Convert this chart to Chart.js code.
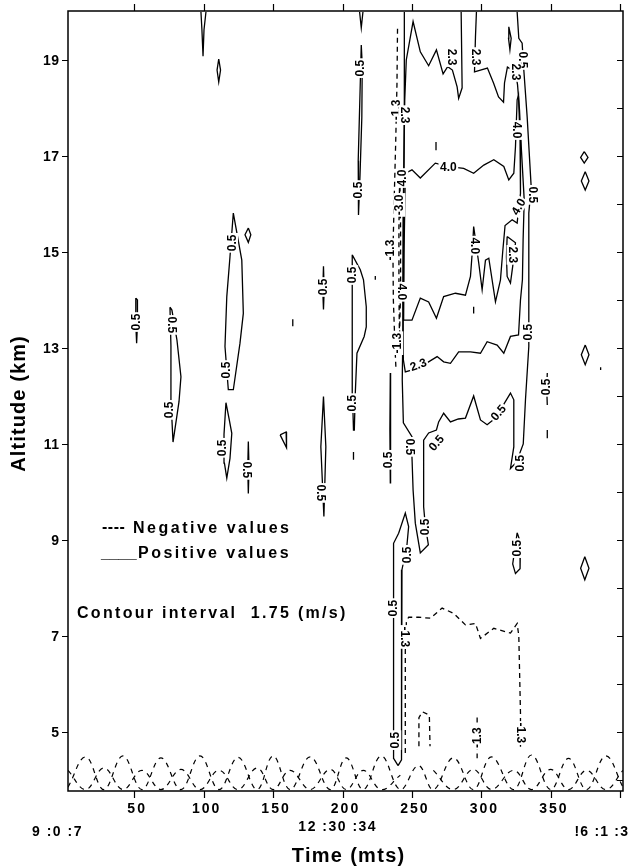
<!DOCTYPE html>
<html><head><meta charset="utf-8">
<script src="https://cdn.jsdelivr.net/npm/chart.js@4.4.1/dist/chart.umd.min.js"></script>
<style>html,body{margin:0;padding:0;background:#fff}canvas{display:block}</style>
</head><body>
<canvas id="c" width="630" height="868"></canvas>
<script>
// ---- axes ----
const X_MIN = 2.4, X_MAX = 401.9, Y_MIN = 3.77, Y_MAX = 20.02;
const xTicks = [50, 100, 150, 200, 250, 300, 350, 400];
const xTickLabels = ['50', '100', '150', '200', '250', '300', '350', ''];
const yTicks = [5, 7, 9, 11, 13, 15, 17, 19];
const yTickLabels = ['5', '7', '9', '11', '13', '15', '17', '19'];
const yMinorTicks = [4, 5, 6, 7, 8, 9, 10, 11, 12, 13, 14, 15, 16, 17, 18, 19];
const timeLabels = ['9 :0 :7', '12 :30 :34', '!6 :1 :3'];

// ---- positive (solid) contours, [time, altitude] ----
const c05Top100 = [[98.1,20.0],[98.8,19.63],[99.6,19.08],[100.3,19.63],[101.7,20.0]];
const c05Dia111 = [[110.9,19.02],[112.2,18.79],[110.9,18.54],[109.7,18.79],[110.9,19.02]];
const c05Top213 = [[212.3,20.0],[213.5,19.67],[214.7,20.0]];
const c05Col213 = [[213.5,19.31],[212.5,18.2],[211.3,16.9],[211.5,15.77],[212.6,16.6],[213.9,17.8],[214.2,18.9],[213.5,19.31]];
const c05L52 = [[51.3,14.04],[51.2,13.5],[51.8,13.1],[52.4,13.5],[52.4,14.0],[51.3,14.04]];
const c05L78 = [[75.8,13.85],[76.5,13.04],[76.5,11.92],[78.0,11.04],[82.3,11.88],[83.7,12.4],[80.8,13.17],[77.2,13.79],[75.8,13.85]];
const c05L120 = [[121.4,15.81],[127.5,14.83],[128.6,13.72],[126.2,13.1],[121.4,12.13],[117.8,12.13],[115.4,13.03],[116.7,14.07],[119.0,14.9],[121.4,15.81]];
const c05Dia132 = [[132.2,15.5],[134.0,15.36],[132.2,15.2],[129.8,15.36],[132.2,15.5]];
const c05L186a = [[186.3,14.7],[185.8,14.2],[186.3,13.8],[186.8,14.2],[186.3,14.7]];
const c05L208 = [[207.0,14.94],[212.8,14.63],[215.1,14.42],[217.1,13.86],[217.1,13.44],[215.6,13.24],[210.4,12.89],[209.2,12.06],[208.5,11.29],[207.9,11.29],[207.2,12.0],[207.0,13.0],[207.0,14.0],[207.0,14.94]];
const c05Dot208 = [[207.9,10.83],[207.9,10.67]];
const c05L117 = [[116.1,11.86],[118.5,11.5],[120.3,11.22],[119.0,10.7],[116.7,10.29],[115.0,10.6],[114.7,11.2],[116.1,11.86]];
const c05L132 = [[132.2,11.05],[131.8,10.5],[132.2,9.97],[132.7,10.5],[132.2,11.05]];
const c05Tri157 = [[155.1,11.19],[159.4,11.25],[159.7,10.92],[155.1,11.19]];
const c05L186b = [[186.3,11.99],[188.0,10.94],[186.6,9.49],[184.4,10.94],[186.3,11.99]];
const c05L234 = [[234.4,12.48],[234.1,11.3],[234.4,10.19],[234.8,11.3],[234.4,12.48]];
const c05Main = [[244.5,20.0],[244.5,18.17],[244.1,16.08],[243.8,14.0],[243.0,12.33],[243.8,11.44],[250.0,11.15],[250.0,10.73],[250.8,10.04],[252.4,9.35],[256.0,8.73],[261.8,8.9],[259.6,9.3],[258.4,9.69],[258.4,11.08],[262.0,11.23],[267.6,11.29],[269.2,11.46],[272.8,11.64],[277.7,11.46],[283.4,11.52],[288.5,11.54],[294.4,12.0],[299.3,11.5],[304.1,11.4],[310.1,11.54],[320.9,12.06],[323.3,11.92],[323.3,10.94],[320.9,10.49],[325.2,10.62],[330.1,11.0],[331.7,11.92],[334.1,13.03],[334.1,15.81],[335.8,16.36],[332.9,17.82],[330.5,18.79],[329.3,19.35],[326.9,19.45],[325.7,20.0]];
const c05Long = [[240.0,4.3],[236.8,4.45],[236.8,5.67],[236.8,7.54],[236.6,8.58],[236.8,8.93],[240.4,9.14],[245.2,9.56],[247.6,9.28],[246.4,8.9],[242.8,8.38],[242.3,7.33],[242.3,5.67],[242.8,4.42],[240.0,4.3]];
const c05Loop326 = [[325.7,9.15],[328.1,8.95],[327.8,8.4],[324.5,8.3],[322.5,8.5],[324.5,8.9],[325.7,9.15]];
const c05Seg347 = [[347.4,12.48],[347.0,12.15],[347.4,11.81]];
const c05Dash347 = [[347.4,11.29],[347.4,11.12]];
const c05Dia374a = [[374.0,17.09],[376.7,16.97],[374.0,16.85],[371.4,16.97],[374.0,17.09]];
const c05Dia374b = [[374.7,16.67],[377.4,16.48],[374.7,16.29],[371.9,16.48],[374.7,16.67]];
const c05Dia374c = [[374.7,13.06],[377.4,12.86],[374.7,12.65],[371.9,12.86],[374.7,13.06]];
const c05Dia374d = [[374.4,8.65],[377.4,8.41],[374.4,8.17],[371.4,8.41],[374.4,8.65]];
const c05Dot386 = [[385.8,12.6],[385.8,12.54]];
const c05Dot224 = [[223.6,14.5],[223.6,14.42]];
const c05Dot164 = [[164.2,13.6],[164.2,13.45]];
const c05Loop320 = [[319.7,19.69],[321.4,19.45],[320.5,19.21],[319.5,19.45],[319.7,19.69]];
const c23Main = [[285.4,20.0],[286.1,18.42],[283.6,18.2],[282.5,18.44],[279.1,18.79],[275.7,18.86],[272.4,18.71],[267.6,19.21],[262.0,18.88],[256.0,19.17],[250.8,19.8],[245.9,19.0],[244.8,18.17],[243.8,16.08],[243.4,14.0],[243.8,12.75],[245.2,12.5],[254.6,12.58],[268.1,12.82],[272.8,12.71],[277.7,12.68],[283.6,12.92],[292.1,12.92],[299.3,12.89],[304.1,13.13],[311.3,13.06],[316.1,12.89],[320.9,13.24],[326.7,13.27],[328.1,14.0],[329.5,14.42],[330.0,15.25],[330.8,16.08],[328.8,17.12],[327.4,17.96],[326.0,18.48],[324.5,18.75],[318.7,18.85],[316.6,18.52],[315.9,18.12],[312.3,18.23],[308.7,18.52],[304.3,18.83],[299.3,18.79],[295.0,18.75],[295.7,19.48],[296.4,20.0]];
const c23Small = [[318.5,15.32],[324.5,15.19],[322.5,14.7],[320.9,14.35],[318.5,14.49],[318.0,14.9],[318.5,15.32]];
const c40Main = [[245.2,16.64],[250.0,16.71],[256.0,16.54],[266.8,16.85],[276.4,16.78],[287.2,16.74],[294.4,16.64],[301.7,16.81],[308.9,16.92],[316.1,16.78],[319.7,16.5],[323.3,16.64],[324.5,17.19],[325.7,18.17],[326.7,18.27],[327.8,17.33],[328.1,16.22],[326.7,15.88],[325.7,15.6],[322.1,15.67],[317.0,15.55],[315.3,15.0],[313.7,14.42],[310.1,13.96],[305.3,14.87],[302.9,14.83],[300.5,14.21],[298.1,14.76],[294.4,15.53],[293.5,15.04],[292.1,14.49],[288.5,14.1],[281.3,14.14],[272.8,14.07],[267.6,13.62],[262.0,13.96],[256.0,14.04],[250.0,13.58],[244.0,13.58],[244.3,15.0],[245.2,16.64]];
const c40Dash267 = [[267.3,17.29],[267.3,17.12]];
const c40Dash294 = [[294.4,13.86],[294.4,13.72]];

// ---- negative (dashed) contours ----
const n13Upper = [[239.6,19.65],[239.2,18.5],[238.3,17.3],[237.2,16.1],[236.3,15.0],[236.6,14.0],[237.8,13.0],[238.5,12.55]];
const n30Upper = [[241.2,16.7],[240.6,15.5],[240.6,14.2],[241.0,13.2],[241.8,14.2],[241.8,15.5],[241.2,16.7]];
const n13Lower = [[245.2,4.56],[245.2,5.7],[245.2,6.7],[246.0,7.3],[247.6,7.39],[254.8,7.39],[263.2,7.37],[271.7,7.58],[280.0,7.47],[288.5,7.23],[295.7,7.26],[299.3,6.95],[308.9,7.16],[320.9,7.06],[325.7,7.26],[326.9,7.0],[328.1,5.4],[328.1,4.69]];
const n13Box = [[255.0,4.7],[255.0,5.3],[257.5,5.42],[262.5,5.35],[263.0,4.7]];
const n13Seg297 = [[296.9,5.3],[296.9,4.45]];
const nWaveOuter = [[2.4,3.85],[15.2,4.48],[28.2,3.8],[41.9,4.5],[55.6,3.8],[69.3,4.46],[83.7,3.8],[97.4,4.5],[111.1,3.8],[124.8,4.47],[138.5,3.8],[150.0,4.5],[162.3,3.8],[176.7,4.48],[191.1,3.8],[202.7,4.46],[214.9,3.8],[227.9,4.5],[241.6,3.8],[254.6,4.3],[265.4,3.8],[279.8,4.46],[294.2,3.8],[307.2,4.48],[323.1,3.8],[336.1,4.52],[349.8,3.8],[362.7,4.45],[375.7,3.8],[389.4,4.5],[401.9,3.85]];
const nWaveInnerL = [[2.4,4.2],[15.2,3.8],[28.2,4.25],[41.9,3.8],[55.6,4.2],[69.3,3.8],[83.7,4.22],[97.4,3.8],[111.1,4.2],[124.8,3.8],[138.5,4.25],[150.0,3.8],[162.3,4.2],[176.7,3.8],[191.1,4.22],[202.7,3.8],[214.9,4.2],[227.9,3.8],[241.6,4.1]];
const nWaveInnerR = [[265.4,4.2],[279.8,3.8],[294.2,4.22],[307.2,3.8],[323.1,4.2],[336.1,3.8],[349.8,4.22],[362.7,3.8],[375.7,4.2],[389.4,3.8],[401.9,4.2]];

// ---- contour labels [time, altitude, text, angle] ----
const contourLabels = [
 [212.8,18.83,'0.5',-90],[211.3,16.29,'0.5',-90],[51.3,13.54,'0.5',-90],[77.2,13.48,'0.5',90],
 [75.0,11.71,'0.5',-90],[120.5,15.19,'0.5',-90],[116.1,12.54,'0.5',-90],[113.3,10.92,'0.5',-90],
 [131.3,10.46,'0.5',90],[184.6,9.98,'0.5',90],[186.1,14.27,'0.5',-90],[207.0,14.52,'0.5',-90],
 [207.0,11.85,'0.5',-90],[232.9,10.67,'0.5',-90],[248.8,10.94,'0.5',90],[259.6,9.27,'0.5',-90],
 [267.6,11.02,'0.5',-50],[312.3,11.65,'0.5',-50],[328.1,10.6,'0.5',-90],[333.9,13.33,'0.5',-90],
 [346.9,12.19,'0.5',-90],[336.8,16.19,'0.5',90],[329.6,19.0,'0.5',90],[326.0,8.83,'0.5',-90],
 [236.6,7.58,'0.5',-90],[238.0,4.83,'0.5',-90],[246.6,8.69,'0.5',-90],
 [238.7,17.96,'-1.3',-90],[234.4,15.04,'-1.3',-90],[239.4,13.1,'-1.3',-90],[245.2,6.98,'-1.3',90],
 [297.1,4.88,'-1.3',-90],[328.1,4.98,'-1.3',90],
 [278.4,19.06,'2.3',90],[295.7,19.06,'2.3',90],[244.5,17.85,'2.3',90],[324.5,18.75,'2.3',90],
 [322.4,14.94,'2.3',90],[254.6,12.65,'2.3',-20],
 [276.2,16.77,'4.0',0],[325.2,17.54,'4.0',90],[326.7,15.94,'4.0',-60],[294.9,15.13,'4.0',90],
 [243.0,14.17,'4.0',90],[243.0,16.54,'4.0',-90],[240.9,15.98,'-3.0',-90]
];

const solidContours = [c05Top100,c05Dia111,c05Top213,c05Col213,c05L52,c05L78,c05L120,c05Dia132,c05L186a,c05L208,c05Dot208,c05L117,c05L132,c05Tri157,c05L186b,c05L234,c05Main,c05Long,c05Loop326,c05Seg347,c05Dash347,c05Dia374a,c05Dia374b,c05Dia374c,c05Dia374d,c05Dot386,c05Dot224,c05Dot164,c05Loop320,c23Main,c23Small,c40Main,c40Dash267,c40Dash294];
const dashedContours = [n13Upper,n30Upper,n13Lower,n13Box,n13Seg297];
const waveContours = [nWaveOuter,nWaveInnerL,nWaveInnerR];

const FONT = '"Liberation Sans", Arial, Helvetica, sans-serif';
const toPts = a => a.map(([x, y]) => ({x, y}));
const datasets = [];
solidContours.forEach(a => datasets.push({data: toPts(a), showLine: true, borderColor: '#000', borderWidth: 1.3, pointRadius: 0, tension: 0, fill: false}));
dashedContours.forEach(a => datasets.push({data: toPts(a), showLine: true, borderColor: '#000', borderWidth: 1.3, borderDash: [5, 4], pointRadius: 0, tension: 0, fill: false}));
waveContours.forEach(a => datasets.push({data: toPts(a), showLine: true, borderColor: '#000', borderWidth: 1.2, borderDash: [5, 5], pointRadius: 0, tension: 0.4, fill: false}));

function spacedText(ctx, text, x, y, spacing, align) {
  ctx.letterSpacing = spacing + 'px';
  const w = ctx.measureText(text).width - spacing;
  let sx = x;
  if (align === 'center') sx = x - w / 2;
  else if (align === 'right') sx = x - w;
  ctx.textAlign = 'left';
  ctx.fillText(text, sx, y);
  ctx.letterSpacing = '0px';
}

const decor = {
  id: 'decor',
  afterDatasetsDraw(chart) {
    const ctx = chart.ctx, xs = chart.scales.x, ys = chart.scales.y, ca = chart.chartArea;
    ctx.save();
    // contour labels
    ctx.font = 'bold 12px ' + FONT;
    ctx.textBaseline = 'middle';
    contourLabels.forEach(([x, y, t, a]) => {
      const px = xs.getPixelForValue(x), py = ys.getPixelForValue(y);
      ctx.save();
      ctx.translate(px, py);
      ctx.rotate(a * Math.PI / 180);
      const w = ctx.measureText(t).width;
      ctx.fillStyle = '#fff';
      ctx.fillRect(-w / 2 - 1.5, -6, w + 3, 12);
      ctx.fillStyle = '#000';
      ctx.textAlign = 'center';
      ctx.fillText(t, 0, 0.5);
      ctx.restore();
    });
    // frame
    ctx.strokeStyle = '#000';
    ctx.lineWidth = 1.5;
    ctx.strokeRect(ca.left, ca.top, ca.right - ca.left, ca.bottom - ca.top);
    ctx.lineWidth = 1.2;
    ctx.beginPath();
    xTicks.forEach(v => {
      const px = Math.round(xs.getPixelForValue(v)) + 0.5;
      ctx.moveTo(px, ca.bottom); ctx.lineTo(px, ca.bottom + 7);
      ctx.moveTo(px, ca.top); ctx.lineTo(px, ca.top - 7);
    });
    yTicks.forEach(v => {
      const py = Math.round(ys.getPixelForValue(v)) + 0.5;
      ctx.moveTo(ca.left, py); ctx.lineTo(ca.left - 6, py);
    });
    yMinorTicks.forEach(v => {
      const py = Math.round(ys.getPixelForValue(v)) + 0.5;
      ctx.moveTo(ca.right, py); ctx.lineTo(ca.right - 6, py);
    });
    ctx.stroke();
    ctx.fillStyle = '#000';
    // tick labels
    ctx.font = 'bold 14px ' + FONT;
    ctx.textBaseline = 'alphabetic';
    xTicks.forEach((v, i) => spacedText(ctx, xTickLabels[i], xs.getPixelForValue(v) + 2, 813, 2, 'center'));
    ctx.textBaseline = 'middle';
    yTicks.forEach((v, i) => spacedText(ctx, yTickLabels[i], ca.left - 9, ys.getPixelForValue(v) + 1, 0.5, 'right'));
    // time labels
    ctx.textBaseline = 'alphabetic';
    ctx.font = 'bold 14px ' + FONT;
    spacedText(ctx, timeLabels[0], 32, 836, 1.5, 'left');
    spacedText(ctx, timeLabels[1], 337, 831, 1.5, 'center');
    spacedText(ctx, timeLabels[2], 628, 836, 1.2, 'right');
    // axis titles
    ctx.font = 'bold 20px ' + FONT;
    spacedText(ctx, 'Time (mts)', 348, 862, 1.3, 'center');
    ctx.save();
    ctx.translate(25, 404);
    ctx.rotate(-Math.PI / 2);
    spacedText(ctx, 'Altitude (km)', 0, 0, 1.1, 'center');
    ctx.restore();
    // legend notes
    ctx.font = 'bold 16px ' + FONT;
    spacedText(ctx, '----', 102, 532, 0.5, 'left');
    spacedText(ctx, 'Negative values', 133, 533, 2.5, 'left');
    spacedText(ctx, '____', 101, 558, 0, 'left');
    spacedText(ctx, 'Positive values', 138, 558, 2.5, 'left');
    spacedText(ctx, 'Contour interval  1.75 (m/s)', 77, 618, 2.3, 'left');
    ctx.restore();
  }
};

new Chart(document.getElementById('c'), {
  type: 'scatter',
  data: {datasets},
  options: {
    responsive: false,
    animation: false,
    events: [],
    layout: {padding: {left: 68, right: 7, top: 11, bottom: 77}},
    plugins: {legend: {display: false}, tooltip: {enabled: false}},
    scales: {
      x: {type: 'linear', display: false, min: X_MIN, max: X_MAX},
      y: {type: 'linear', display: false, min: Y_MIN, max: Y_MAX}
    }
  },
  plugins: [decor]
});
</script>
</body></html>
